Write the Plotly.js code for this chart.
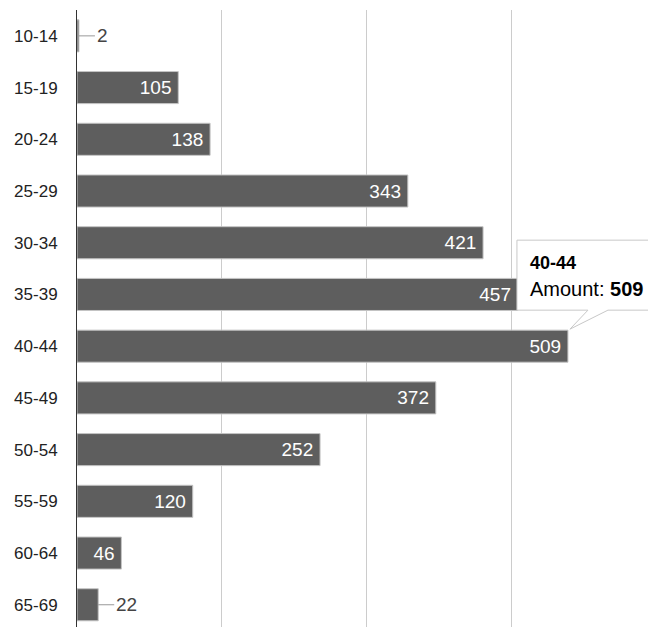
<!DOCTYPE html>
<html><head><meta charset="utf-8">
<script src="https://cdn.plot.ly/plotly-3.0.1.min.js"></script>
<style>html,body{margin:0;padding:0;background:#fff;}#chart{width:648px;height:627px;}</style>
</head><body><div id="chart"></div>
<script>
const ageGroups = ['10-14','15-19','20-24','25-29','30-34','35-39','40-44','45-49','50-54','55-59','60-64','65-69'];
const amounts = [2,105,138,343,421,457,509,372,252,120,46,22];
const tooltipGroup = '40-44';
const tooltipLabel = 'Amount';

const FONT = 'Arial, "Liberation Sans", sans-serif';
const insideText = amounts.map(v => v >= 40 ? String(v) + '\u2009' : '');
const annotations = [];
amounts.forEach((v, i) => {
  if (v < 40) {
    annotations.push({x: v, y: ageGroups[i], xref: 'x', yref: 'y', text: String(v),
      showarrow: true, arrowhead: 0, arrowwidth: 1, arrowcolor: '#999', ax: 16, ay: 0,
      xanchor: 'left', standoff: 0, startstandoff: 0,
      font: {family: FONT, size: 19, color: '#444'}});
  }
});
const ti = ageGroups.indexOf(tooltipGroup);
const tv = amounts[ti];
annotations.push({x: tv, y: tooltipGroup, xref: 'x', yref: 'y', text: '<b>' + tooltipGroup + '</b>',
  showarrow: false, xanchor: 'left', yanchor: 'middle', xshift: -40, yshift: 83,
  font: {family: FONT, size: 18, color: '#000'}});
annotations.push({x: tv, y: tooltipGroup, xref: 'x', yref: 'y', text: tooltipLabel + ': <b>' + tv + '</b>',
  showarrow: false, xanchor: 'left', yanchor: 'middle', xshift: -40, yshift: 57,
  font: {family: FONT, size: 20, color: '#000'}});

const shapes = [{
  type: 'path', xref: 'x', yref: 'y', xsizemode: 'pixel', ysizemode: 'pixel',
  xanchor: tv, yanchor: ti,
  path: 'M -51,36 L 20,36 L 2,17 L 40,36 L 110,36 L 110,106 L -51,106 Z',
  fillcolor: '#ffffff', line: {color: '#c8c8c8', width: 1}, layer: 'above'
}];

const trace = {
  type: 'bar', orientation: 'h', y: ageGroups, x: amounts,
  marker: {color: '#5e5e5e', line: {color: '#c4c4c4', width: 1}},
  width: 0.62,
  text: insideText, textposition: 'inside', insidetextanchor: 'end',
  textfont: {family: FONT, size: 19, color: '#ffffff'},
  hoverinfo: 'none', cliponaxis: false
};

const layout = {
  width: 648, height: 627,
  margin: {l: 77, r: 0, t: 10, b: 0},
  paper_bgcolor: '#fff', plot_bgcolor: '#fff',
  showlegend: false,
  xaxis: {range: [0, 592], tickvals: [150, 300, 450], showticklabels: false,
    showgrid: true, gridcolor: '#cccccc', gridwidth: 1, zeroline: false, showline: false, fixedrange: true},
  yaxis: {type: 'category', range: [11.43, -0.5], showline: true, linecolor: '#333', linewidth: 1,
    showgrid: false, ticks: '', ticklabelstandoff: 15,
    tickfont: {family: FONT, size: 17, color: '#222'}, fixedrange: true},
  annotations: annotations,
  shapes: shapes,
  font: {family: FONT}
};
Plotly.newPlot('chart', [trace], layout, {displayModeBar: false, staticPlot: true});
</script></body></html>
